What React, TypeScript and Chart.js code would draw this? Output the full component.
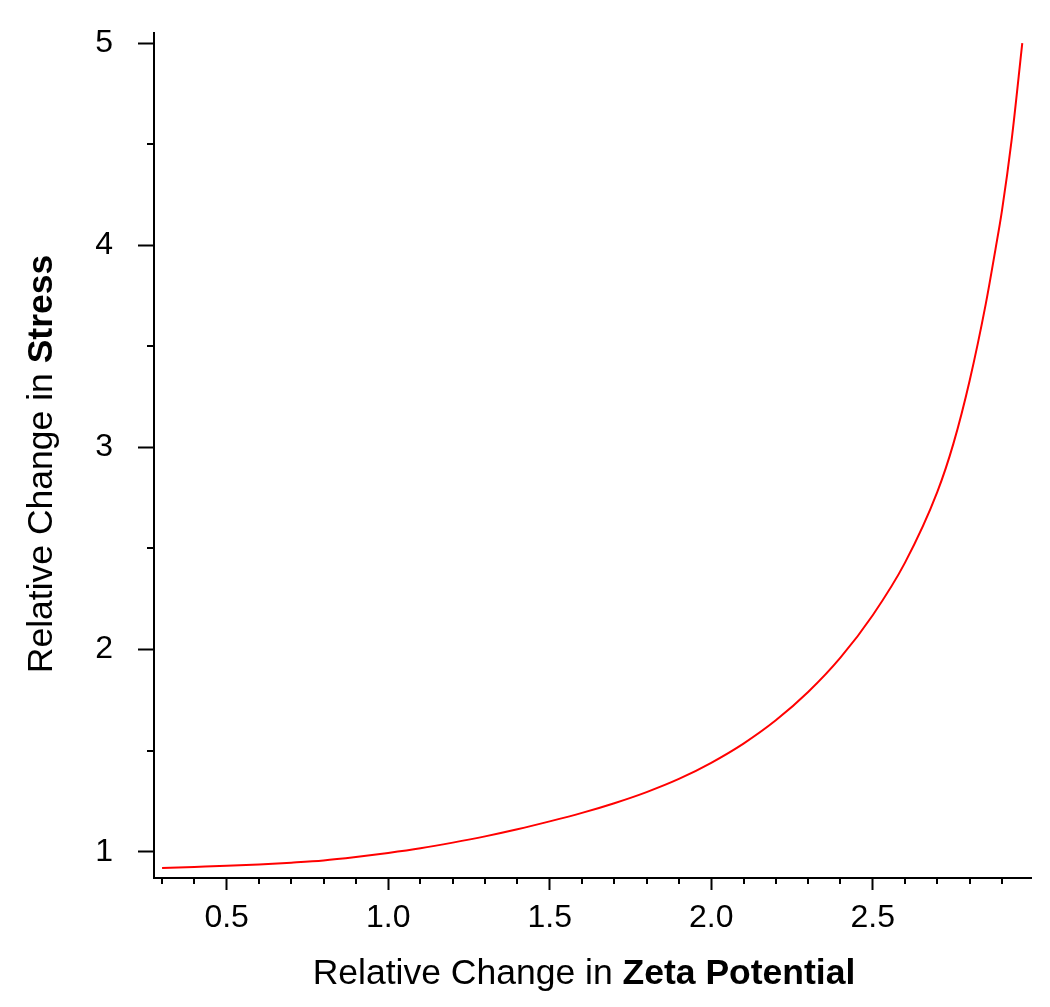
import React, { useEffect, useRef } from "react";
import { Chart, registerables } from "chart.js";

Chart.register(...registerables);

// Relative change in zeta potential (x) vs relative change in stress (y)
const zetaValues = [
  0.3, 0.4, 0.5, 0.6, 0.7, 0.8, 0.9, 1.0, 1.1, 1.2, 1.3, 1.4, 1.5, 1.6, 1.7,
  1.8, 1.9, 2.0, 2.1, 2.2, 2.3, 2.4, 2.5, 2.6, 2.7, 2.75, 2.8, 2.85, 2.88,
  2.9, 2.93, 2.963,
];
const stressValues = [
  0.92, 0.925, 0.93, 0.937, 0.946, 0.957, 0.974, 0.994, 1.017, 1.045, 1.076,
  1.111, 1.15, 1.192, 1.24, 1.295, 1.36, 1.44, 1.535, 1.65, 1.79, 1.96, 2.17,
  2.43, 2.78, 3.02, 3.33, 3.71, 3.98, 4.17, 4.52, 5.0,
];

const xMajorTicks = [0.5, 1.0, 1.5, 2.0, 2.5];
const xMinorTicks = [
  0.3, 0.4, 0.6, 0.7, 0.8, 0.9, 1.1, 1.2, 1.3, 1.4, 1.6, 1.7, 1.8, 1.9, 2.1,
  2.2, 2.3, 2.4, 2.6, 2.7, 2.8, 2.9,
];
const yMajorTicks = [1, 2, 3, 4, 5];
const yMinorTicks = [1.5, 2.5, 3.5, 4.5];

const xTitleRegular = "Relative Change in ";
const xTitleBold = "Zeta Potential";
const yTitleRegular = "Relative Change in ";
const yTitleBold = "Stress";

const FONT = "'Liberation Sans', Arial, Helvetica, sans-serif";

const extrasPlugin = {
  id: "extras",
  afterDraw(chart: any) {
    const ctx = chart.ctx;
    const xs = chart.scales.x;
    const ys = chart.scales.y;
    const area = chart.chartArea;
    ctx.save();
    ctx.strokeStyle = "#000";
    ctx.lineWidth = 2;
    // minor ticks
    xMinorTicks.forEach((v) => {
      const px = Math.round(xs.getPixelForValue(v));
      ctx.beginPath();
      ctx.moveTo(px, area.bottom);
      ctx.lineTo(px, area.bottom + 6);
      ctx.stroke();
    });
    yMinorTicks.forEach((v) => {
      const py = Math.round(ys.getPixelForValue(v));
      ctx.beginPath();
      ctx.moveTo(area.left, py);
      ctx.lineTo(area.left - 7, py);
      ctx.stroke();
    });
    // titles
    ctx.fillStyle = "#000";
    ctx.textBaseline = "alphabetic";
    ctx.textAlign = "left";
    const fs = 35.5;
    ctx.font = `${fs}px ${FONT}`;
    const xr = ctx.measureText(xTitleRegular).width;
    ctx.font = `bold ${fs}px ${FONT}`;
    const xb = ctx.measureText(xTitleBold).width;
    const xStart = 584 - (xr + xb) / 2;
    ctx.font = `${fs}px ${FONT}`;
    ctx.fillText(xTitleRegular, xStart, 984);
    ctx.font = `bold ${fs}px ${FONT}`;
    ctx.fillText(xTitleBold, xStart + xr, 984);

    ctx.font = `${fs}px ${FONT}`;
    const yr = ctx.measureText(yTitleRegular).width;
    ctx.font = `bold ${fs}px ${FONT}`;
    const yb = ctx.measureText(yTitleBold).width;
    ctx.translate(52, 464 + (yr + yb) / 2);
    ctx.rotate(-Math.PI / 2);
    ctx.font = `${fs}px ${FONT}`;
    ctx.fillText(yTitleRegular, 0, 0);
    ctx.font = `bold ${fs}px ${FONT}`;
    ctx.fillText(yTitleBold, yr, 0);
    ctx.restore();
  },
};

export default function App() {
  const ref = useRef<HTMLCanvasElement | null>(null);
  useEffect(() => {
    if (!ref.current) return;
    const chart = new Chart(ref.current, {
      type: "line",
      data: {
        datasets: [
          {
            data: zetaValues.map((x, i) => ({ x, y: stressValues[i] })),
            borderColor: "#ff0000",
            borderWidth: 2,
            pointRadius: 0,
            fill: false,
            cubicInterpolationMode: "monotone",
          },
        ],
      },
      options: {
        animation: false,
        responsive: false,
        devicePixelRatio: 1,
        layout: { padding: { left: 0, top: 33, right: 19, bottom: 0 } },
        plugins: {
          legend: { display: false },
          tooltip: { enabled: false },
        },
        scales: {
          x: {
            type: "linear",
            min: 0.275,
            max: 2.99,
            afterBuildTicks: (scale: any) => {
              scale.ticks = xMajorTicks.map((value) => ({ value }));
            },
            afterFit: (scale: any) => {
              scale.height = 129;
              scale.paddingLeft = 0;
              scale.paddingRight = 0;
            },
            grid: {
              display: true,
              drawOnChartArea: false,
              drawTicks: true,
              tickLength: 12,
              tickWidth: 2,
              tickColor: "#000",
            },
            border: { display: true, color: "#000", width: 2 },
            ticks: {
              color: "#000",
              font: { family: FONT, size: 32 },
              padding: 9,
              maxRotation: 0,
              autoSkip: false,
              callback: (v: any) => Number(v).toFixed(1),
            },
          },
          y: {
            type: "linear",
            min: 0.87,
            max: 5.05,
            afterBuildTicks: (scale: any) => {
              scale.ticks = yMajorTicks.map((value) => ({ value }));
            },
            afterFit: (scale: any) => {
              scale.width = 154;
              scale.paddingTop = 0;
              scale.paddingBottom = 0;
            },
            grid: {
              display: true,
              drawOnChartArea: false,
              drawTicks: true,
              tickLength: 16,
              tickWidth: 2,
              tickColor: "#000",
            },
            border: { display: true, color: "#000", width: 2 },
            ticks: {
              color: "#000",
              font: { family: FONT, size: 32 },
              padding: 25,
              autoSkip: false,
              callback: (v: any) => String(v),
            },
          },
        },
      },
      plugins: [extrasPlugin],
    } as any);
    return () => chart.destroy();
  }, []);
  return (
    <div style={{ position: "fixed", left: 0, top: 0, width: 1050, height: 1007, background: "#fff" }}>
      <canvas ref={ref} width={1050} height={1007} style={{ width: 1050, height: 1007, display: "block" }} />
    </div>
  );
}
